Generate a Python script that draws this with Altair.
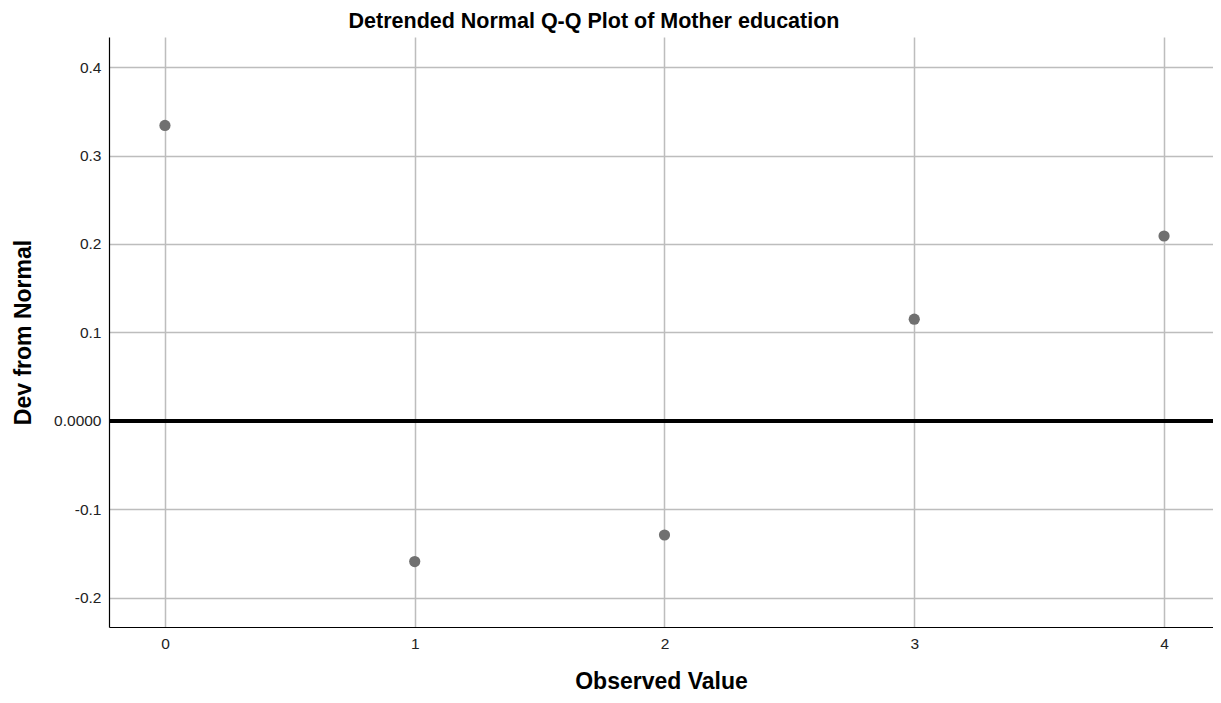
import altair as alt
import pandas as pd

observed = [0, 1, 2, 3, 4]
deviation = [0.334, -0.159, -0.129, 0.115, 0.209]
y_ticks = [-0.2, -0.1, 0.0, 0.1, 0.2, 0.3, 0.4]
x_ticks = [0, 1, 2, 3, 4]

df = pd.DataFrame({"x": observed, "y": deviation})
zero_df = pd.DataFrame({"y": [0.0]})

FONT = "Liberation Sans"

xscale = alt.Scale(domain=[-0.224, 4.196], nice=False, zero=False)
yscale = alt.Scale(domain=[-0.233, 0.434], nice=False, zero=False)

points = alt.Chart(df).mark_circle(size=125, color="#707070", opacity=1).encode(
    x=alt.X("x:Q", scale=xscale,
            axis=alt.Axis(values=x_ticks, title="Observed Value", grid=True,
                          gridColor="#bdbdbd", gridWidth=1.5, ticks=False,
                          domainColor="black", domainWidth=1.2,
                          labelFont=FONT, labelFontSize=15.5, labelColor="#222222",
                          labelPadding=9, format="d",
                          titleFont=FONT, titleFontSize=23, titleFontWeight="bold",
                          titleColor="black", titlePadding=19)),
    y=alt.Y("y:Q", scale=yscale,
            axis=alt.Axis(values=y_ticks, title="Dev from Normal", grid=True,
                          gridColor="#bdbdbd", gridWidth=1.5, ticks=False,
                          domainColor="black", domainWidth=1.2,
                          labelFont=FONT, labelFontSize=15.5, labelColor="#222222",
                          labelPadding=8,
                          labelExpr="datum.value == 0 ? '0.0000' : replace(format(datum.value, '.1f'), '\u2212', '-')",
                          titleFont=FONT, titleFontSize=23, titleFontWeight="bold",
                          titleColor="black", titlePadding=18)),
)

zero_line = alt.Chart(zero_df).mark_rule(color="black", strokeWidth=4).encode(
    y=alt.Y("y:Q", scale=yscale)
)

chart = (zero_line + points).properties(
    width=1104,
    height=590,
    title=alt.TitleParams("Detrended Normal Q-Q Plot of Mother education",
                          font=FONT, fontSize=21.5, fontWeight="bold", color="black",
                          dx=-67, offset=5),
    autosize=alt.AutoSizeParams(type="none"),
    padding={"left": 101, "top": 29, "right": 0, "bottom": 70},
).configure_view(stroke=None)

chart.save("out.html", embed_options={"renderer": "svg", "actions": False})
